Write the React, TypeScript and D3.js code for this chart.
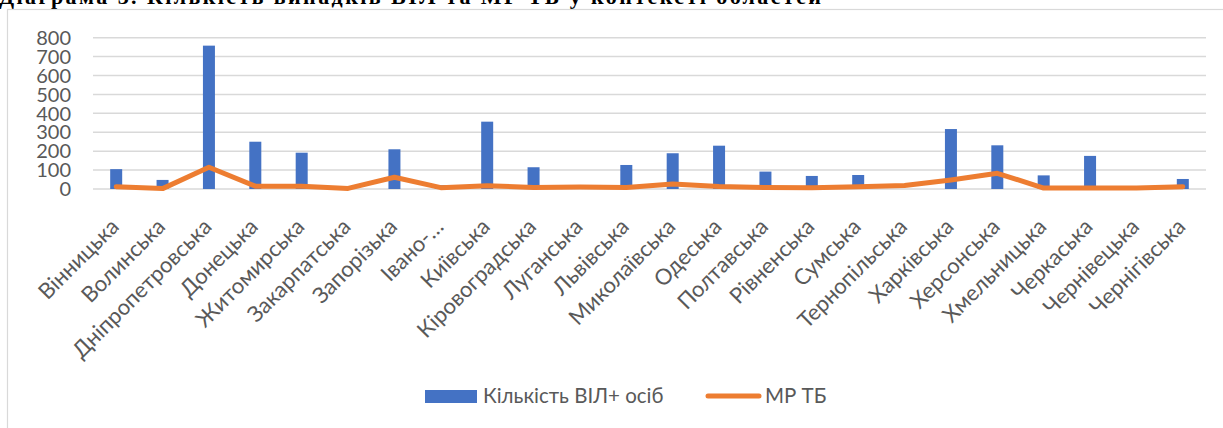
import React from "react";
import * as d3 from "d3";

const categories = [
  "Вінницька", "Волинська", "Дніпропетровська", "Донецька", "Житомирська",
  "Закарпатська", "Запорізька", "Івано-…", "Київська", "Кіровоградська",
  "Луганська", "Львівська", "Миколаївська", "Одеська", "Полтавська",
  "Рівненська", "Сумська", "Тернопільська", "Харківська", "Херсонська",
  "Хмельницька", "Черкаська", "Чернівецька", "Чернігівська",
];
const hivValues = [105, 48, 758, 250, 192, 0, 210, 20, 356, 115, 0, 127, 189, 229, 92, 69, 74, 0, 317, 231, 72, 175, 0, 53];
const tbValues = [12, 2, 115, 15, 15, 3, 62, 7, 17, 8, 10, 8, 26, 13, 8, 7, 12, 18, 48, 83, 5, 5, 5, 12];
const yTicks = [0, 100, 200, 300, 400, 500, 600, 700, 800];
const seriesNames = ["Кількість ВІЛ+ осіб", "МР ТБ"];
const title = "Діаграма 3. Кількість випадків ВІЛ та МР ТБ у контексті областей";

const W = 1223, H = 428;
const BLUE = "#4472C4", ORANGE = "#ED7D31", GRID = "#D9D9D9", TXT = "#595959";
const FONT = "Lato, 'Open Sans', sans-serif";

export default function App() {
  const x = d3.scaleBand<string>().domain(categories).range([93, 1206]).paddingInner(0).paddingOuter(0);
  const y = d3.scaleLinear().domain([0, 800]).range([189, 37.7]);
  const bw = 12;
  const cx = (c: string) => (x(c) as number) + x.bandwidth() / 2;
  const line = d3.line<number>().x((_, i) => cx(categories[i])).y(v => y(v));

  return (
    <svg width={W} height={H} style={{ position: "absolute", left: 0, top: 0, background: "#fff" }}>
      <rect x={0} y={0} width={W} height={H} fill="#fff" />
      <text x={-1} y={4} fontFamily="'Liberation Serif', 'Times New Roman', serif" fontWeight="bold" fontSize={22} textLength={822} lengthAdjust="spacing" fill="#000">{title}</text>
      <rect x={7.5} y={9.5} width={W} height={H} fill="none" stroke={GRID} strokeWidth={1.2} />
      {yTicks.map(t => (
        <g key={t}>
          <line x1={93} x2={1206} y1={y(t)} y2={y(t)} stroke={GRID} strokeWidth={1.5} />
          <text x={71} y={y(t)} dy="0.36em" textAnchor="end" fontFamily={FONT} fontSize={20} fill={TXT}>{t}</text>
        </g>
      ))}
      {categories.map((c, i) => (
        <rect key={c} x={cx(c) - bw / 2} y={y(hivValues[i])} width={bw} height={y(0) - y(hivValues[i])} fill={BLUE} />
      ))}
      <path d={line(tbValues) || ""} fill="none" stroke={ORANGE} strokeWidth={5} strokeLinecap="round" strokeLinejoin="round" />
      {categories.map(c => (
        <text key={c} transform={`translate(${cx(c) + 4},${228}) rotate(-45)`} textAnchor="end" fontFamily={FONT} fontSize={22} fill={TXT}>{c}</text>
      ))}
      <rect x={425} y={390} width={52} height={13} fill={BLUE} />
      <text x={483} y={403} fontFamily={FONT} fontSize={20.5} fill={TXT}>{seriesNames[0]}</text>
      <line x1={708} x2={759} y1={396} y2={396} stroke={ORANGE} strokeWidth={5} strokeLinecap="round" />
      <text x={765} y={403} fontFamily={FONT} fontSize={20.5} fill={TXT}>{seriesNames[1]}</text>
    </svg>
  );
}
